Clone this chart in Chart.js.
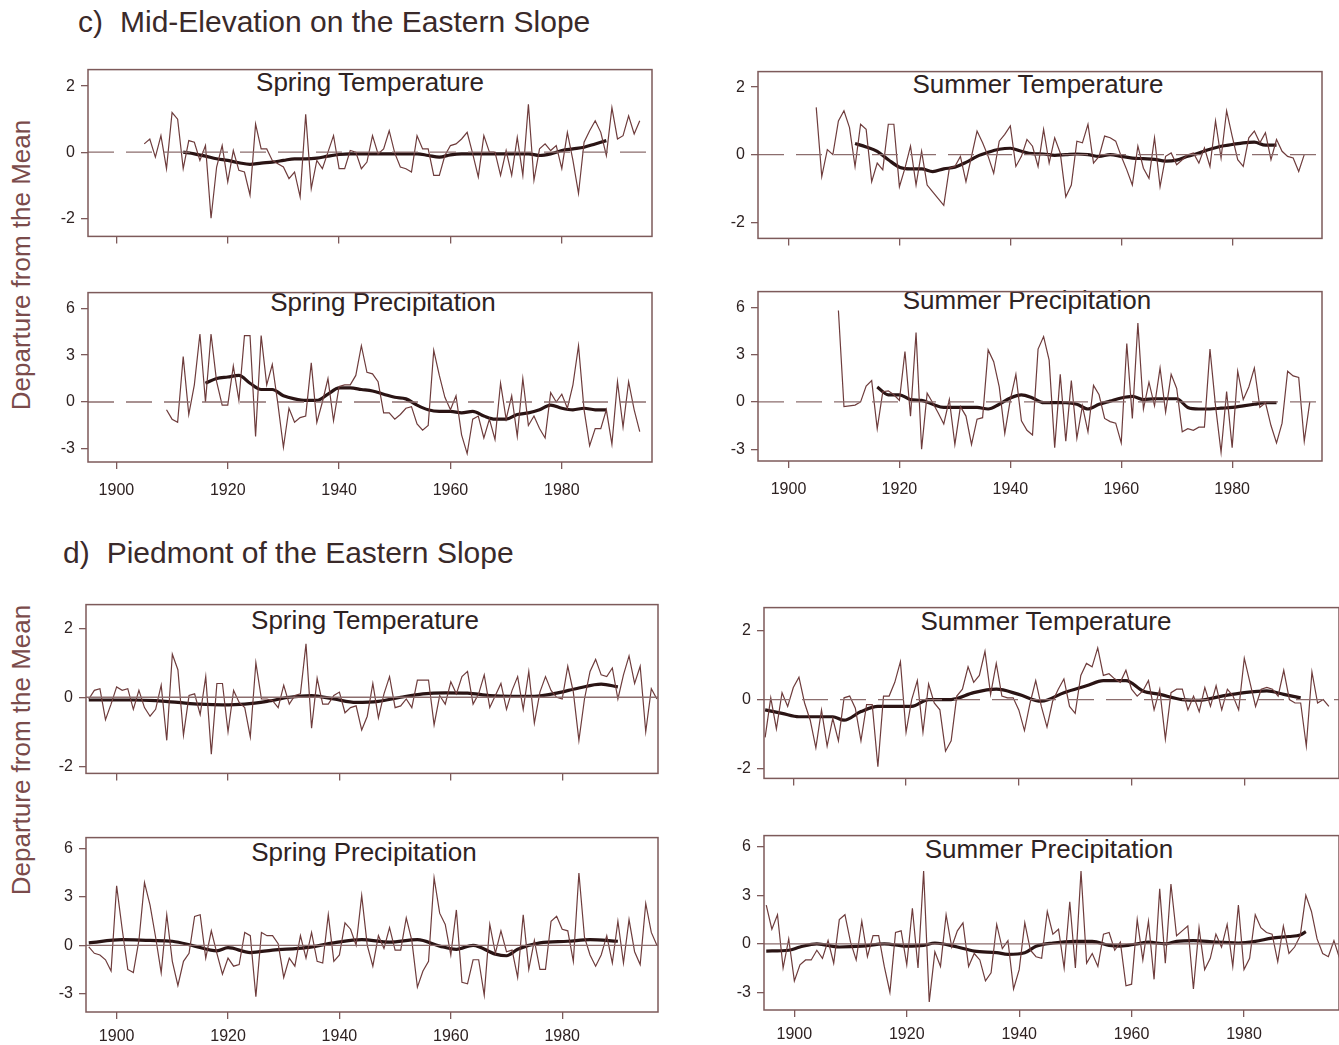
<!DOCTYPE html>
<html><head><meta charset="utf-8">
<script src="https://cdn.jsdelivr.net/npm/chart.js@4.4.1/dist/chart.umd.min.js"></script>
<style>
html,body{margin:0;padding:0;background:#fff;width:1339px;height:1045px;overflow:hidden;position:relative;font-family:"Liberation Sans",Arial,sans-serif;color:#2e2222;}
.abs{position:absolute;white-space:nowrap;line-height:1;}
.sec{font-size:30px;color:#3a2a2a;}
.ptitle{font-size:26px;transform:translate(-50%,-50%);color:#2e2222;}
.ylab{font-size:26px;color:#7a4b4b;transform:translate(-50%,-50%) rotate(-90deg);}
canvas{position:absolute;}
</style></head><body>
<div class="abs sec" style="left:78px;top:7px"><span>c)</span><span style="margin-left:17px">Mid-Elevation on the Eastern Slope</span></div>
<div class="abs sec" style="left:63px;top:538px"><span>d)</span><span style="margin-left:17px">Piedmont of the Eastern Slope</span></div>
<div class="abs ylab" style="left:21px;top:265px">Departure from the Mean</div>
<div class="abs ylab" style="left:21px;top:750px">Departure from the Mean</div>
<div class="abs ptitle" style="left:370px;top:82px">Spring Temperature</div>
<div class="abs ptitle" style="left:1038px;top:84px">Summer Temperature</div>
<div class="abs ptitle" style="left:383px;top:302px">Spring Precipitation</div>
<div class="abs ptitle" style="left:1027px;top:300px">Summer Precipitation</div>
<div class="abs ptitle" style="left:365px;top:620px">Spring Temperature</div>
<div class="abs ptitle" style="left:1046px;top:621px">Summer Temperature</div>
<div class="abs ptitle" style="left:364px;top:852px">Spring Precipitation</div>
<div class="abs ptitle" style="left:1049px;top:849px">Summer Precipitation</div>
<script>
// ---------- tick labels ----------
const xTickYears = [1900, 1920, 1940, 1960, 1980];
const tempTicks = [-2, 0, 2];
const precipTicks = [-3, 0, 3, 6];

// ---------- c) Mid-Elevation on the Eastern Slope ----------
const cSpringTempStart = 1905;
const cSpringTemp = [
  0.25,0.4,-0.15,0.5,-0.5,
  1.2,1.0,-0.5,0.35,0.3,-0.25,0.2,-2.0,-0.45,0.2,
  -0.9,0.05,-0.55,-0.6,-1.3,0.85,0.1,0.1,-0.25,-0.35,
  -0.45,-0.8,-0.6,-1.35,1.15,-1.1,-0.25,-0.5,0,0.5,
  -0.5,-0.5,0.05,0,-0.5,-0.3,0.5,-0.05,0.1,0.65,
  -0.03,-0.45,-0.5,-0.6,0.5,0.1,0.1,-0.7,-0.7,-0.1,
  0.2,0.25,0.4,0.6,-0.05,-0.75,0.5,0,0,-0.7,
  0.05,-0.7,0.45,-0.7,1.45,-0.85,0.1,0.25,0.05,0.2,
  -0.5,0.6,-0.25,-1.25,0.3,0.65,0.95,0.6,-0.1,1.35,
  0.4,0.5,1.1,0.55,0.95];
const cSpringTempSmoothYears = [1912,1914,1916,1918,1920,1922,1924,1926,1928,1930,1932,1934,1936,1938,1940,1942,1944,1946,1948,1950,1952,1954,1956,1958,1960,1962,1964,1966,1968,1970,1972,1974,1976,1978,1980,1982,1984,1986,1988];
const cSpringTempSmooth = [0.0,-0.05,-0.12,-0.2,-0.25,-0.32,-0.37,-0.33,-0.3,-0.25,-0.2,-0.2,-0.18,-0.12,-0.07,-0.05,-0.05,-0.05,-0.05,-0.05,-0.05,-0.05,-0.1,-0.15,-0.08,-0.05,-0.05,-0.05,-0.05,-0.05,-0.05,-0.05,-0.1,-0.05,0.05,0.1,0.15,0.25,0.35];

const cSummerTempStart = 1905;
const cSummerTemp = [
  1.4,-0.65,0.15,0,1.0,
  1.3,0.8,-0.35,0.9,0.75,-0.8,-0.25,-0.45,0.9,0.9,
  -0.95,-0.4,0.25,-0.9,0.1,-0.9,-1.1,-1.3,-1.5,-0.4,
  -0.35,-0.05,-0.8,-0.05,0.7,0.35,-0.05,-0.55,0.4,0.6,
  0.85,-0.35,-0.05,0.45,0.25,-0.35,0.75,-0.25,0.5,0.05,
  -1.25,-0.9,0.4,0.35,0.9,-0.25,-0.05,0.55,0.5,0.4,
  -0.05,-0.45,-0.9,0.25,-0.4,-0.7,0.5,-0.95,-0.05,0.05,
  -0.3,-0.15,0,0.05,-0.25,0.2,-0.35,1.0,-0.1,1.3,
  0.55,-0.15,-0.35,0.5,0.7,0.35,0.65,-0.15,0.45,0.1,
  -0.05,-0.1,-0.5,0];
const cSummerTempSmoothYears = [1912,1914,1916,1918,1920,1922,1924,1926,1928,1930,1932,1934,1936,1938,1940,1942,1944,1946,1948,1950,1952,1954,1956,1958,1960,1962,1964,1966,1968,1970,1972,1974,1976,1978,1980,1982,1984,1986,1988];
const cSummerTempSmooth = [0.33,0.23,0.1,-0.15,-0.37,-0.42,-0.42,-0.5,-0.42,-0.37,-0.23,-0.05,0.07,0.16,0.19,0.1,0.03,0.02,-0.02,0.0,0.02,0.0,-0.05,0.0,-0.05,-0.1,-0.12,-0.14,-0.19,-0.16,-0.05,0.05,0.16,0.25,0.3,0.35,0.37,0.28,0.28];

const cSpringPrecipStart = 1909;
const cSpringPrecip = [
  -0.5,
  -1.1,-1.3,2.9,-0.8,1.1,4.35,0,4.35,1.3,-0.2,
  -0.2,2.3,0.1,4.25,4.25,-2.2,4.25,1.1,2.4,-0.1,
  -2.9,-0.4,-1.3,-1.0,-0.9,2.5,-1.3,0,1.5,-1.2,
  1.0,1.1,1.1,1.7,3.6,1.9,1.8,1.3,-0.7,-0.7,
  -1.1,-0.8,-0.4,-0.3,-1.4,-1.8,-1.5,3.3,1.7,0.3,
  -0.5,0.4,-2.1,-3.3,-1.1,-0.9,-2.3,-1.1,-2.4,1.2,
  -1.1,0.4,-2.2,1.5,-1.5,-0.9,-1.7,-2.3,0.6,0,
  0.5,-0.4,1.1,3.6,-0.5,-2.8,-1.7,-1.7,-0.5,-2.7,
  1.3,-1.6,1.3,-0.5,-1.9];
const cSpringPrecipSmoothYears = [1916,1918,1920,1922,1924,1926,1928,1930,1932,1934,1936,1938,1940,1942,1944,1946,1948,1950,1952,1954,1956,1958,1960,1962,1964,1966,1968,1970,1972,1974,1976,1978,1980,1982,1984,1986,1988];
const cSpringPrecipSmooth = [1.2,1.5,1.6,1.7,1.2,0.8,0.8,0.4,0.2,0.1,0.1,0.5,0.9,0.9,0.8,0.7,0.5,0.3,0.2,-0.2,-0.5,-0.6,-0.6,-0.7,-0.6,-0.9,-1.1,-1.1,-0.8,-0.7,-0.5,-0.2,-0.4,-0.5,-0.4,-0.5,-0.5];

const cSummerPrecipStart = 1909;
const cSummerPrecip = [
  5.8,
  -0.3,-0.25,-0.2,0,1.0,1.35,-1.7,0.65,0.7,0.45,
  0.1,3.2,-0.9,4.4,-3.0,0.55,-0.05,-0.7,-1.4,0.15,
  -2.7,-0.3,-0.9,-2.7,-1.1,-1.0,3.3,2.55,0.95,-2.0,
  0.15,1.75,-1.2,-1.8,-2.1,3.35,4.15,2.65,-2.9,1.75,
  -2.5,1.35,-2.3,-0.25,-1.9,1.05,0.45,-1.05,-1.25,-1.35,
  -2.6,3.7,-1.05,5.0,-0.45,1.25,-0.25,2.15,-0.65,1.75,
  0.85,-1.9,-1.7,-1.8,-1.6,-1.6,3.35,-0.25,-3.2,0.65,
  -2.9,1.95,0.15,0.95,2.15,-0.35,-0.05,-1.5,-2.6,-1.35,
  1.95,1.65,1.55,-2.5,0];
const cSummerPrecipSmoothYears = [1916,1918,1920,1922,1924,1926,1928,1930,1932,1934,1936,1938,1940,1942,1944,1946,1948,1950,1952,1954,1956,1958,1960,1962,1964,1966,1968,1970,1972,1974,1976,1978,1980,1982,1984,1986,1988];
const cSummerPrecipSmooth = [0.95,0.45,0.45,0.15,0.1,-0.15,-0.35,-0.35,-0.35,-0.35,-0.45,-0.15,0.25,0.45,0.25,-0.05,-0.05,-0.05,-0.15,-0.45,-0.15,0.05,0.25,0.35,0.15,0.2,0.2,0.2,-0.35,-0.45,-0.45,-0.4,-0.35,-0.25,-0.15,-0.05,-0.05];

// ---------- d) Piedmont of the Eastern Slope ----------
const dSpringTempStart = 1895;
const dSpringTemp = [
  -0.05,0.2,0.25,-0.65,-0.2,
  0.3,0.2,0.25,-0.35,0.2,-0.3,-0.55,-0.35,0.35,-1.25,
  1.25,0.8,-1.1,0.05,0.1,-0.5,0.6,-1.65,0.4,0.4,
  -1.0,0.2,-0.15,-0.3,-1.15,1.0,-0.05,-0.05,-0.1,-0.3,
  0.35,-0.2,0.05,0.1,1.55,-0.9,0.55,-0.2,-0.2,0.05,
  0.15,-0.45,-0.3,-0.25,-0.95,-0.55,0.4,-0.6,0.1,0.6,
  -0.3,-0.25,-0.05,-0.3,0.5,0.5,0.5,-0.8,0.05,-0.2,
  0.45,0.1,0.6,0.75,-0.2,0.1,0.65,-0.3,0.05,0.4,
  -0.35,0.2,0.6,-0.35,0.75,-0.75,0.15,0.6,0.2,0,
  -0.05,0.9,0.15,-1.25,-0.05,0.75,1.1,0.65,0.6,0.85,
  -0.05,0.65,1.2,0.4,0.9,-1.0,0.25,-0.05];
const dSpringTempSmoothYears = [1895,1899,1903,1907,1911,1915,1919,1923,1927,1931,1935,1939,1943,1947,1951,1955,1959,1963,1967,1971,1975,1979,1983,1987,1990];
const dSpringTempSmooth = [-0.08,-0.08,-0.08,-0.1,-0.15,-0.2,-0.22,-0.2,-0.12,0.0,0.05,-0.05,-0.15,-0.12,0.0,0.1,0.13,0.12,0.05,0.03,0.03,0.12,0.27,0.38,0.3];

const dSummerTempStart = 1895;
const dSummerTemp = [
  -1.1,0.05,-0.85,0.2,-0.2,
  0.35,0.65,-0.1,-0.6,-1.4,-0.3,-1.35,-0.55,-1.2,0.05,
  0.1,-0.25,-1.2,-0.15,-0.15,-1.95,0.1,0.1,0.5,1.1,
  -0.95,0.0,0.55,-0.95,0.45,-0.1,-0.3,-1.5,-1.2,0.1,
  0.3,0.95,0.5,0.7,1.4,0.15,1.05,0.1,0.05,0.05,
  -0.3,-0.9,-0.1,0.55,-0.2,-0.8,-0.05,0.3,0.6,-0.2,
  -0.4,0.7,1.05,0.95,1.5,0.7,0.75,0.6,0.5,0.85,
  0.3,0.1,0.25,0.55,-0.3,0.3,-1.15,0.2,0.3,0.3,
  -0.3,0.1,-0.35,0.35,-0.2,0.4,-0.3,0.3,0.1,-0.3,
  1.2,0.5,-0.2,0.3,0.35,0.3,0.1,0.85,0.0,-0.1,
  -0.1,-1.35,0.8,-0.1,0.0,-0.2];
const dSummerTempSmoothYears = [1895,1898,1901,1904,1907,1909,1912,1915,1918,1921,1924,1928,1932,1936,1940,1944,1948,1952,1955,1959,1962,1965,1969,1972,1976,1980,1984,1987,1990];
const dSummerTempSmooth = [-0.3,-0.4,-0.5,-0.5,-0.5,-0.6,-0.35,-0.2,-0.2,-0.2,0.0,0.0,0.2,0.3,0.15,-0.05,0.2,0.4,0.55,0.55,0.25,0.15,0.0,-0.02,0.1,0.2,0.25,0.15,0.05];

const dSpringPrecipStart = 1895;
const dSpringPrecip = [
  -0.1,-0.5,-0.6,-0.9,-1.6,
  3.7,1.0,-1.5,-1.7,0.3,3.9,2.5,0.5,-1.7,1.9,
  -1.0,-2.5,-1.0,-0.5,1.8,1.9,-0.8,0.9,-0.5,-1.8,
  -0.8,-1.3,-1.2,0.8,0.6,-3.2,0.8,0.6,0.6,0.1,
  -2.0,-0.8,-1.3,0.6,-0.8,0.8,-1.0,-1.1,1.9,-1.0,
  -0.6,1.4,1.0,0,3.1,0,-1.3,0.6,-0.2,1.1,
  -0.3,-0.3,1.7,0.3,-2.6,-1.6,-1.0,4.2,2.0,1.3,
  -0.6,2.2,-2.3,-2.4,-0.9,-0.9,-3.1,1.3,-0.5,0.9,
  -0.4,-0.3,-2.0,1.9,-1.5,0.3,-1.5,-1.5,1.5,1.8,
  1.0,0.9,-1.0,4.5,0.5,-0.6,-1.3,-0.6,0.6,-1.1,
  1.5,-1.1,1.6,-0.4,-1.2,2.6,0.8,0];
const dSpringPrecipSmoothYears = [1895,1901,1906,1910,1914,1918,1920,1924,1928,1934,1939,1944,1949,1954,1958,1961,1964,1968,1970,1972,1976,1981,1985,1990];
const dSpringPrecipSmooth = [0.15,0.35,0.3,0.25,-0.05,-0.35,-0.15,-0.45,-0.3,-0.15,0.15,0.35,0.2,0.35,-0.05,-0.25,0.0,-0.55,-0.65,-0.25,0.15,0.25,0.35,0.25];

const dSummerPrecipStart = 1895;
const dSummerPrecip = [
  2.4,0.9,1.8,-1.5,0.3,
  -2.3,-1.3,-1.0,-1.0,-0.4,-0.9,0.2,-1.2,1.5,1.8,
  0.1,-1.0,1.4,-0.8,0.5,0.5,-1.4,-3.0,0.7,0.8,
  -1.3,2.2,-1.5,4.5,-3.6,-0.5,-1.4,1.8,-0.2,0.8,
  1.3,-1.4,-0.6,-1.0,-2.3,-1.8,1.2,-0.3,0.2,-2.8,
  -1.6,1.3,-0.4,-0.8,-0.9,2.0,0.6,0.9,-1.5,2.6,
  -1.5,4.5,-1.2,-0.6,-1.4,0.6,0.7,-0.4,0.1,-2.6,
  -2.5,1.5,-1.0,1.4,-2.2,3.4,-1.2,3.7,0.5,0.8,
  1.1,-2.8,1.0,-1.6,-0.9,0.6,-0.2,1.2,-1.4,2.4,
  -1.6,-0.9,1.8,1.0,0.7,0.6,-1.1,1.1,-0.6,-0.2,
  0.5,3.0,2.0,0.3,-0.6,-0.8,0.2,-0.9];
const dSummerPrecipSmoothYears = [1895,1899,1901,1904,1908,1912,1916,1920,1923,1925,1929,1932,1936,1938,1941,1943,1946,1950,1953,1956,1958,1961,1963,1966,1968,1971,1975,1979,1982,1985,1988,1990,1991];
const dSummerPrecipSmooth = [-0.45,-0.4,-0.2,0.0,-0.2,-0.15,0.0,-0.15,-0.1,0.05,-0.2,-0.45,-0.55,-0.65,-0.55,-0.15,0.05,0.15,0.15,-0.1,-0.15,0.0,0.1,0.0,0.15,0.2,0.1,0.05,0.15,0.35,0.45,0.55,0.75];

// ---------- drawing ----------
const FONT = '"Liberation Sans", Arial, sans-serif';
const INK = '#2e2222';
const FRAME = '#7d5a5a';
const THIN = '#6e3c3c';
const THICK = '#2a1414';

function annual(start, vals) { return vals.map((v, i) => ({ x: start + i, y: v })); }
function pairs(years, vals) { return years.map((yr, i) => ({ x: yr, y: vals[i] })); }

const framePlugin = {
  id: 'frame',
  afterDraw(chart) {
    const { ctx, chartArea: a } = chart;
    ctx.save();
    ctx.strokeStyle = FRAME;
    ctx.lineWidth = 1.5;
    ctx.strokeRect(a.left, a.top, a.right - a.left, a.bottom - a.top);
    ctx.restore();
  }
};

function panel(p) {
  const LEFT = 52, TOP = 4, RIGHT = 4;
  const bottomH = p.labels ? 44 : 12;
  const w = p.box.r - p.box.l + LEFT + RIGHT;
  const h = p.box.b - p.box.t + TOP + bottomH;
  const cv = document.createElement('canvas');
  cv.width = w; cv.height = h;
  cv.style.left = (p.box.l - LEFT) + 'px';
  cv.style.top = (p.box.t - TOP) + 'px';
  cv.style.width = w + 'px'; cv.style.height = h + 'px';
  document.body.appendChild(cv);
  new Chart(cv, {
    type: 'line',
    data: {
      datasets: [
        { data: [{ x: p.xr[0], y: 0 }, { x: p.xr[1], y: 0 }], borderColor: '#8c6e6e', borderWidth: 1.3,
          borderDash: p.dash, pointRadius: 0 },
        { data: p.raw, borderColor: THIN, borderWidth: 1.2, pointRadius: 0, tension: 0 },
        { data: p.smooth, borderColor: THICK, borderWidth: 3.2, pointRadius: 0, cubicInterpolationMode: 'monotone' }
      ]
    },
    options: {
      responsive: false, animation: false, devicePixelRatio: 1, events: [],
      layout: { padding: { top: TOP, right: RIGHT, left: 0, bottom: 0 } },
      plugins: { legend: { display: false }, tooltip: { enabled: false } },
      scales: {
        x: {
          type: 'linear', min: p.xr[0], max: p.xr[1],
          afterBuildTicks: s => { s.ticks = xTickYears.map(v => ({ value: v })); },
          afterFit: s => { s.height = bottomH; },
          ticks: { display: p.labels, color: INK, font: { family: FONT, size: 16 }, padding: p.xpad || 10,
                   maxRotation: 0, autoSkip: false, callback: v => String(v) },
          grid: { drawOnChartArea: false, drawTicks: true, tickLength: 7, color: FRAME, lineWidth: 1.3 },
          border: { display: false }
        },
        y: {
          type: 'linear', min: p.yr[0], max: p.yr[1],
          afterBuildTicks: s => { s.ticks = p.yt.map(v => ({ value: v })); },
          afterFit: s => { s.width = LEFT; },
          ticks: { color: INK, font: { family: FONT, size: 16 }, padding: 6, callback: v => String(v) },
          grid: { drawOnChartArea: false, drawTicks: true, tickLength: 7, color: FRAME, lineWidth: 1.3 },
          border: { display: false }
        }
      }
    },
    plugins: [framePlugin]
  });
}

const DASH = [26, 12];
panel({ box: { l: 88, t: 58, r: 652, b: 240 }, xr: [1894.9, 1996.2], yr: [-2.55, 2.5], yt: tempTicks, labels: false, dash: DASH,
  raw: annual(cSpringTempStart, cSpringTemp), smooth: pairs(cSpringTempSmoothYears, cSpringTempSmooth) });
panel({ box: { l: 758, t: 60, r: 1322, b: 242 }, xr: [1894.5, 1996.2], yr: [-2.48, 2.46], yt: tempTicks, labels: false, dash: DASH,
  raw: annual(cSummerTempStart, cSummerTemp), smooth: pairs(cSummerTempSmoothYears, cSummerTempSmooth) });
panel({ box: { l: 88, t: 281, r: 652, b: 462 }, xr: [1894.9, 1996.2], yr: [-3.84, 7.0], yt: precipTicks, labels: true, xpad: 12, dash: DASH,
  raw: annual(cSpringPrecipStart, cSpringPrecip), smooth: pairs(cSpringPrecipSmoothYears, cSpringPrecipSmooth) });
panel({ box: { l: 758, t: 280, r: 1322, b: 461 }, xr: [1894.5, 1996.2], yr: [-3.75, 7.0], yt: precipTicks, labels: true, xpad: 12, dash: DASH,
  raw: annual(cSummerPrecipStart, cSummerPrecip), smooth: pairs(cSummerPrecipSmoothYears, cSummerPrecipSmooth) });

panel({ box: { l: 86, t: 593, r: 658, b: 777 }, xr: [1894.5, 1997.2], yr: [-2.21, 2.69], yt: tempTicks, labels: false, dash: [],
  raw: annual(dSpringTempStart, dSpringTemp), smooth: pairs(dSpringTempSmoothYears, dSpringTempSmooth) });
panel({ box: { l: 764, t: 596, r: 1339, b: 782 }, xr: [1894.8, 1996.8], yr: [-2.29, 2.67], yt: tempTicks, labels: false, dash: DASH,
  raw: annual(dSummerTempStart, dSummerTemp), smooth: pairs(dSummerTempSmoothYears, dSummerTempSmooth) });
panel({ box: { l: 86, t: 826, r: 658, b: 1012 }, xr: [1894.5, 1997.2], yr: [-4.15, 6.7], yt: precipTicks, labels: true, xpad: 8, dash: [],
  raw: annual(dSpringPrecipStart, dSpringPrecip), smooth: pairs(dSpringPrecipSmoothYears, dSpringPrecipSmooth) });
panel({ box: { l: 764, t: 824, r: 1339, b: 1010 }, xr: [1894.6, 1996.9], yr: [-4.1, 6.7], yt: precipTicks, labels: true, xpad: 8, dash: [],
  raw: annual(dSummerPrecipStart, dSummerPrecip), smooth: pairs(dSummerPrecipSmoothYears, dSummerPrecipSmooth) });
</script>
</body></html>
